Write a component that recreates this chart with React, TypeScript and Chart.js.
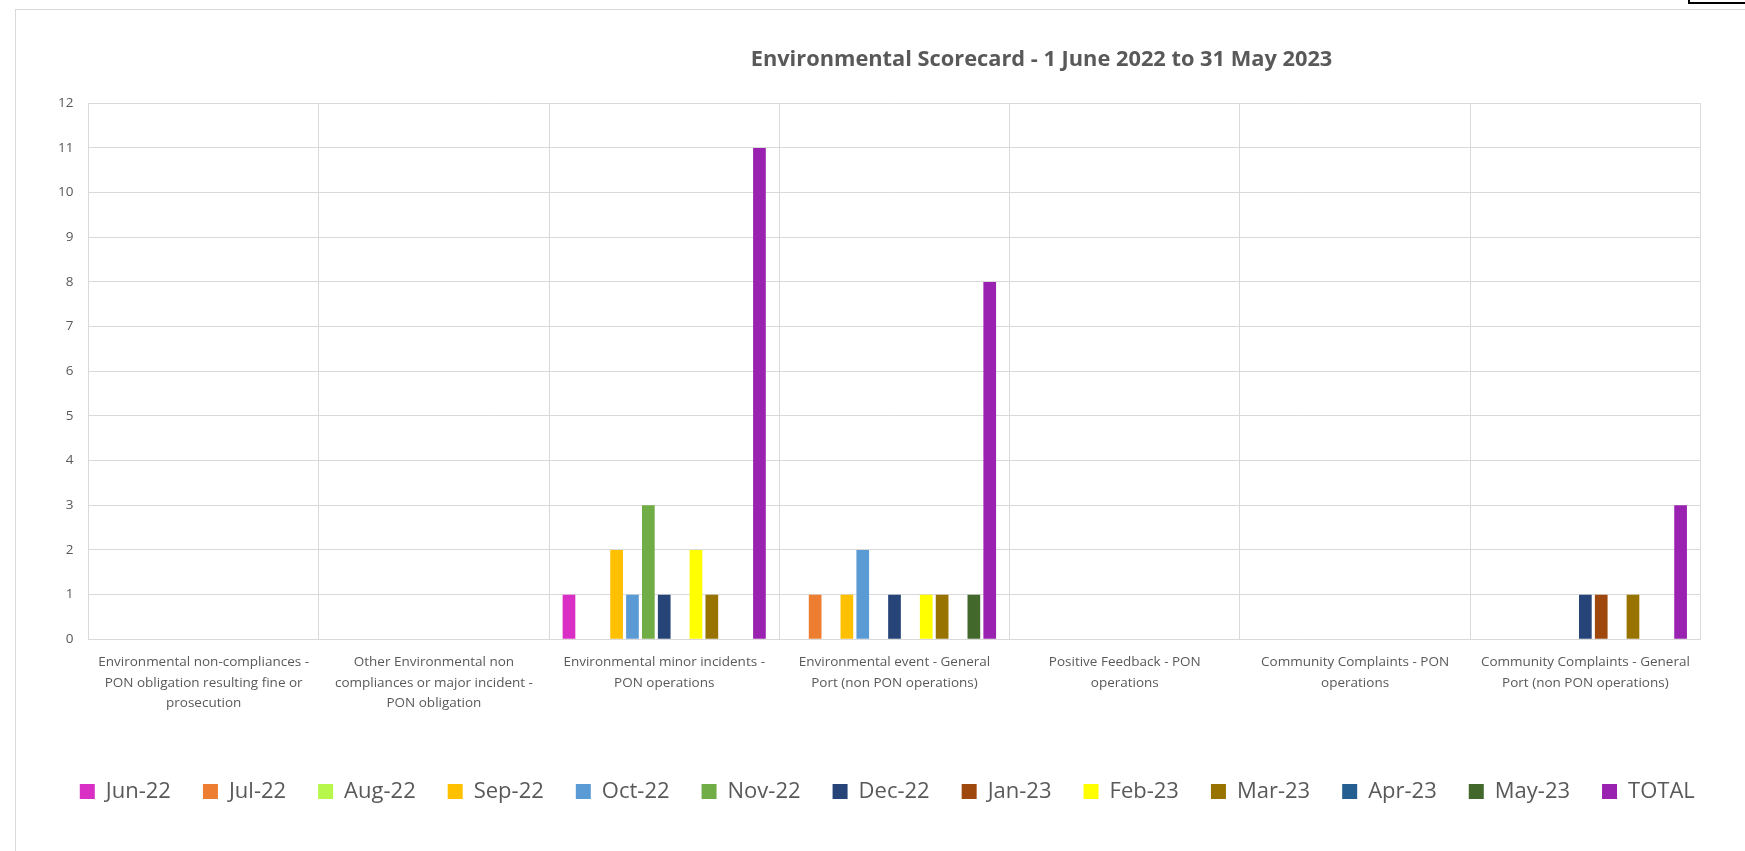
import React, { useEffect, useRef } from "react";
import { Chart, registerables } from "chart.js";

Chart.register(...registerables);

const TITLE = "Environmental Scorecard - 1 June 2022 to 31 May 2023";

const categories: string[][] = [
  ["Environmental non-compliances -", "PON obligation resulting fine or", "prosecution"],
  ["Other Environmental non", "compliances or major incident -", "PON obligation"],
  ["Environmental minor incidents -", "PON operations"],
  ["Environmental event - General", "Port (non PON operations)"],
  ["Positive Feedback - PON", "operations"],
  ["Community Complaints - PON", "operations"],
  ["Community Complaints - General", "Port (non PON operations)"],
];

const yTicks = [0, 1, 2, 3, 4, 5, 6, 7, 8, 9, 10, 11, 12];

const seriesNames = [
  "Jun-22", "Jul-22", "Aug-22", "Sep-22", "Oct-22", "Nov-22", "Dec-22",
  "Jan-23", "Feb-23", "Mar-23", "Apr-23", "May-23", "TOTAL",
];

const jun22 = [0, 0, 1, 0, 0, 0, 0];
const jul22 = [0, 0, 0, 1, 0, 0, 0];
const aug22 = [0, 0, 0, 0, 0, 0, 0];
const sep22 = [0, 0, 2, 1, 0, 0, 0];
const oct22 = [0, 0, 1, 2, 0, 0, 0];
const nov22 = [0, 0, 3, 0, 0, 0, 0];
const dec22 = [0, 0, 1, 1, 0, 0, 1];
const jan23 = [0, 0, 0, 0, 0, 0, 1];
const feb23 = [0, 0, 2, 1, 0, 0, 0];
const mar23 = [0, 0, 1, 1, 0, 0, 1];
const apr23 = [0, 0, 0, 0, 0, 0, 0];
const may23 = [0, 0, 0, 1, 0, 0, 0];
const total = [0, 0, 11, 8, 0, 0, 3];

const seriesValues = [jun22, jul22, aug22, sep22, oct22, nov22, dec22, jan23, feb23, mar23, apr23, may23, total];

const seriesColors = [
  "#DA2FC5", "#ED7D31", "#B7F64B", "#FFC000", "#5B9BD5", "#70AD47", "#264478",
  "#9E480E", "#FFFF00", "#997300", "#255E91", "#43682B", "#9A22B0",
];

const TEXT = "#595959";
const GRID = "#D9D9D9";
const FONT = "'Open Sans', 'Noto Sans', sans-serif";

export default function App() {
  const canvasRef = useRef<HTMLCanvasElement | null>(null);

  useEffect(() => {
    const canvas = canvasRef.current;
    if (!canvas) return;
    const chart = new Chart(canvas, {
      type: "bar",
      data: {
        labels: categories,
        datasets: seriesNames.map((name, i) => ({
          label: name,
          data: seriesValues[i],
          backgroundColor: seriesColors[i],
          borderWidth: 0,
          categoryPercentage: 0.896,
          barPercentage: 0.8,
        })),
      },
      options: {
        responsive: false,
        animation: false,
        layout: { padding: { left: 47.8, right: 0, top: 103.3, bottom: 38.5 } },
        plugins: {
          tooltip: { enabled: false },
          title: { display: false },
          legend: {
            position: "bottom",
            align: "start",
            labels: {
              boxWidth: 15,
              boxHeight: 15,
              padding: 32,
              color: TEXT,
              font: { family: FONT, size: 22 },
            },
          },
        },
        scales: {
          x: {
            grid: { color: GRID, lineWidth: 1, drawTicks: false, offset: true },
            border: { color: GRID, width: 1 },
            ticks: {
              color: TEXT,
              padding: 12,
              maxRotation: 0,
              autoSkip: false,
              font: { family: FONT, size: 13.5, lineHeight: 1.55 },
            },
            afterFit: (s: any) => { s.height = 109.2; },
          },
          y: {
            min: 0,
            max: 12,
            afterBuildTicks: (s: any) => { s.ticks = yTicks.map((v) => ({ value: v })); },
            grid: { color: GRID, lineWidth: 1, drawTicks: false },
            border: { color: GRID, width: 1 },
            ticks: {
              color: TEXT,
              padding: 15,
              font: { family: FONT, size: 13.5 },
            },
            afterFit: (s: any) => { s.width = 40.7; },
          },
          yR: {
            type: "linear",
            position: "right",
            display: true,
            grid: { display: false, drawOnChartArea: false },
            border: { display: false },
            ticks: { display: false },
            afterFit: (s: any) => { s.width = 44.5; },
          },
        },
      } as any,
    });
    return () => chart.destroy();
  }, []);

  return (
    <div style={{ position: "fixed", left: 0, top: 0, width: 1745, height: 851, overflow: "hidden", background: "#fff" }}>
      <div style={{ position: "absolute", left: 15, top: 9, width: 3000, height: 3000, border: `1px solid ${GRID}` }} />
      <div style={{ position: "absolute", left: 1688, top: -20, width: 200, height: 20, border: "2px solid #000" }} />
      <canvas ref={canvasRef} width={1745} height={851} style={{ position: "absolute", left: 0, top: 0, width: 1745, height: 851 }} />
      <div
        style={{
          position: "absolute",
          left: 0,
          top: 43,
          width: 2083,
          textAlign: "center",
          fontFamily: FONT,
          fontWeight: 700,
          fontSize: 21.8,
          lineHeight: "30px",
          color: TEXT,
          whiteSpace: "nowrap",
        }}
      >
        {TITLE}
      </div>
    </div>
  );
}
